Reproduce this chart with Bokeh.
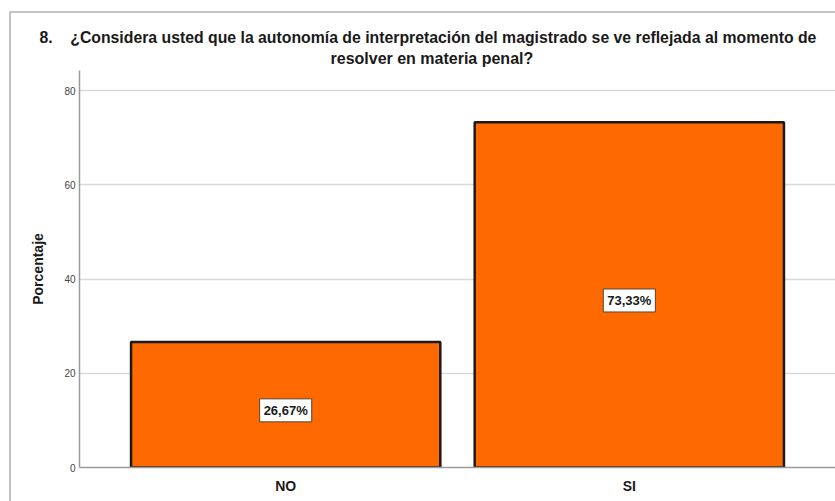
from bokeh.plotting import figure
from bokeh.models import ColumnDataSource, FactorRange, Range1d, Title
from bokeh.core.properties import value
from bokeh.embed import file_html
from bokeh.resources import INLINE

categories = ["NO", "SI"]
values = [26.67, 73.33]
labels = ["26,67%", "73,33%"]
y_ticks = [0, 20, 40, 60, 80]
title_line1 = "8.\u00a0\u00a0\u00a0\u00a0¿Considera usted que la autonomía de interpretación del magistrado se ve reflejada al momento de"
title_line2 = "resolver en materia penal?"
y_label = "Porcentaje"

FONT = "Liberation Sans"

src = ColumnDataSource(dict(
    cat=categories,
    val=values,
    lab=labels,
    mid=[v / 2 - 1.2 for v in values],
))

p = figure(
    width=826, height=490,
    x_range=FactorRange(factors=categories, range_padding=0.1, range_padding_units="absolute"),
    y_range=Range1d(0, 84.3),
    output_backend="svg", toolbar_location=None,
    min_border_left=68, min_border_right=2, min_border_top=57, min_border_bottom=36,
)
p.margin = (11, 0, 0, 9)
p.title = None
p.add_layout(Title(text=title_line2, align="left", offset=251,
                   text_font=FONT, text_font_size="16px", text_font_style="bold",
                   text_color="#1a1a1a", standoff=8), "above")
p.add_layout(Title(text=title_line1, align="left", offset=-40,
                   text_font=FONT, text_font_size="15.8px", text_font_style="bold",
                   text_color="#1a1a1a", standoff=-4), "above")

p.outline_line_color = None
p.background_fill_color = "white"
p.border_fill_color = "white"
p.styles = {"border-left": "2px solid #c4c4c4", "border-top": "2px solid #c4c4c4"}

p.vbar(x="cat", top="val", width=0.9, source=src,
       fill_color="#ff6a00", line_color="#1a1a1a", line_width=2.5)

p.text(x="cat", y="mid", text="lab", source=src,
       text_align="center", text_baseline="middle",
       text_font=value(FONT), text_font_size="13px", text_font_style="bold",
       text_color="#1a1a1a",
       background_fill_color="white", border_line_color="#5a4030",
       border_line_width=1, padding=4)

p.xgrid.grid_line_color = None
p.ygrid.grid_line_color = "#dadada"
p.ygrid.grid_line_width = 1.5
p.yaxis.ticker = y_ticks

for ax in (p.xaxis, p.yaxis):
    ax.major_tick_line_color = None
    ax.minor_tick_line_color = None
    ax.major_tick_out = 0
    ax.minor_tick_out = 0
    ax.axis_line_color = "#9a9a9a"
    ax.axis_line_width = 1.5

p.yaxis.major_label_text_font = FONT
p.yaxis.major_label_text_font_size = "10px"
p.yaxis.major_label_text_color = "#444444"
p.yaxis.major_label_standoff = 4
p.yaxis.axis_label = y_label
p.yaxis.axis_label_text_font = FONT
p.yaxis.axis_label_text_font_size = "14px"
p.yaxis.axis_label_text_font_style = "bold"
p.yaxis.axis_label_text_color = "#1a1a1a"
p.yaxis.axis_label_standoff = 15

p.xaxis.major_label_text_font = FONT
p.xaxis.major_label_text_font_size = "14px"
p.xaxis.major_label_text_font_style = "bold"
p.xaxis.major_label_text_color = "#1a1a1a"
p.xaxis.major_label_standoff = 10

open("out.html", "w").write(file_html(p, INLINE))
